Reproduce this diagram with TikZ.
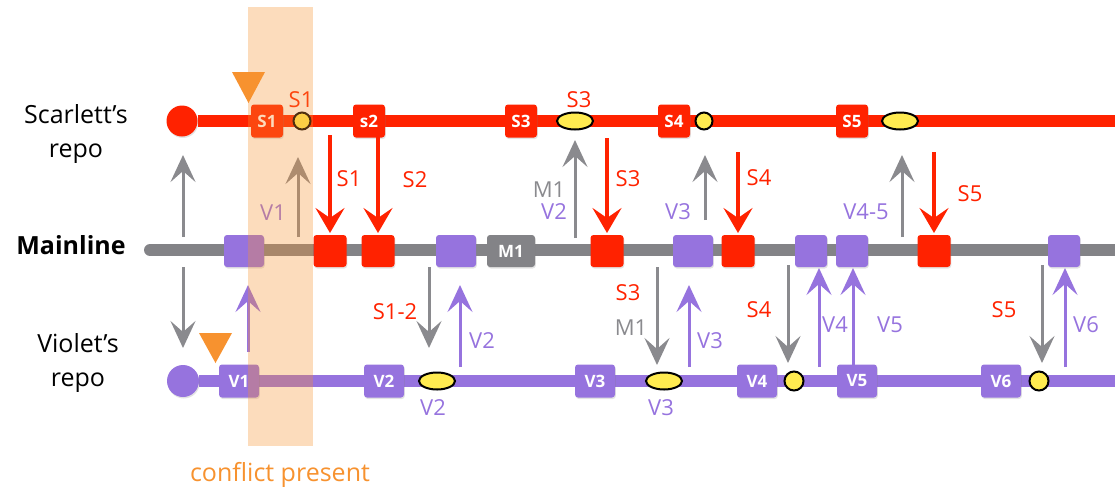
\documentclass[tikz,border=0pt]{standalone}
\usepackage{fontspec}
\setmainfont{Open Sans}
\usetikzlibrary{arrows.meta,shadows,shapes.geometric,backgrounds}

\definecolor{scar}{HTML}{FF2200}
\definecolor{vio}{HTML}{9673DE}
\definecolor{mgray}{HTML}{838387}
\definecolor{agray}{HTML}{8A8A8E}
\definecolor{dot}{HTML}{FFEB50}
\definecolor{warn}{HTML}{F7922F}

\tikzset{
  shade/.style={drop shadow={shadow xshift=0.8pt, shadow yshift=-1.5pt, opacity=0.22}},
  commit/.style={rounded corners=3pt, minimum height=33pt, minimum width=32pt,
    inner sep=0pt, text=white, font=\fontsize{17}{17}\selectfont\bfseries, shade},
  scommit/.style={commit, fill=scar},
  vcommit/.style={commit, fill=vio, minimum width=40pt},
  mred/.style={commit, fill=scar, minimum height=32pt, minimum width=33pt},
  mvio/.style={commit, fill=vio, minimum height=32pt},
  mgrey/.style={commit, fill=mgray, minimum height=32pt, minimum width=48pt},
  root/.style={circle, minimum size=31pt, inner sep=0pt, shade},
  token/.style={circle, draw=black, line width=2pt, fill=dot, minimum size=17pt, inner sep=0pt},
  bigtoken/.style={ellipse, draw=black, line width=2pt, fill=dot, minimum width=36pt, minimum height=17pt, inner sep=0pt},
  track/.style={line width=12pt},
  lbl/.style={font=\fontsize{22}{22}\selectfont, inner sep=0pt},
  side/.style={font=\fontsize{25}{34}\selectfont, inner sep=0pt, align=center},
  tipped/.style={-{Stealth[length=27pt, width=25pt, inset=11pt]}},
  gpush/.style={tipped, draw=agray, line width=3pt},
  rpush/.style={-{Stealth[length=25pt, width=29pt, inset=10pt]}, draw=scar, line width=3.5pt},
  vpush/.style={tipped, draw=vio, line width=3pt},
}

\begin{document}
\begin{tikzpicture}[x=1pt, y=-1pt]
\useasboundingbox (0,0) rectangle (1115,491);

% side captions
\node[side, anchor=north] (capS) at (76,104) {Scarlett’s\\repo};
\node[side, anchor=base, font=\fontsize{25}{25}\selectfont\bfseries] (capM) at (71,254) {Mainline};
\node[side, anchor=north] (capV) at (78,333) {Violet’s\\repo};

% Scarlett's repository
\node[root, fill=scar] (sr) at (182,121) {};
\node[scommit] (s1) at (267,121) {S1};
\node[token] (st1) at (302,121) {};
\node[scommit] (s2) at (369,121) {s2};
\node[scommit] (s3) at (521,121) {S3};
\node[bigtoken] (st3) at (575,121) {};
\node[scommit] (s4) at (674,121) {S4};
\node[token] (st4) at (704,121) {};
\node[scommit] (s5) at (852,121) {S5};
\node[bigtoken] (st5) at (900,121) {};
\coordinate (send) at (1115,121);

% mainline
\coordinate (mstart) at (150,250);
\node[mvio, minimum width=40pt] (m1) at (244,251) {};
\node[mred] (m2) at (330,251) {};
\node[mred] (m3) at (378,251) {};
\node[mvio, minimum width=40pt] (m4) at (456,251) {};
\node[mgrey] (mm1) at (511,251) {M1};
\node[mred] (m5) at (607,251) {};
\node[mvio, minimum width=40pt] (m6) at (693,251) {};
\node[mred] (m7) at (738,251) {};
\node[mvio, minimum width=32pt] (m8) at (811,251) {};
\node[mvio, minimum width=32pt] (m9) at (852,251) {};
\node[mred] (m10) at (934,251) {};
\node[mvio, minimum width=32pt] (m11) at (1064,251) {};
\coordinate (mend) at (1115,250);

% Violet's repository
\node[root, fill=vio, minimum size=32pt] (vr) at (183,381) {};
\node[vcommit] (v1) at (239,381) {V1};
\node[vcommit] (v2) at (384,381) {V2};
\node[bigtoken] (vt2) at (437,381) {};
\node[vcommit] (v3) at (595,381) {V3};
\node[bigtoken] (vt3) at (664,381) {};
\node[vcommit] (v4) at (757,381) {V4};
\node[token, minimum size=19pt] (vt4) at (794,381) {};
\node[vcommit] (v5) at (857,381) {V5};
\node[vcommit] (v6) at (1001,381) {V6};
\node[token, minimum size=19pt] (vt6) at (1039,381) {};
\coordinate (vend) at (1115,381);

% the three branch lines, behind the commits
\begin{scope}[on background layer]
  \draw[track, scar] (sr) -- (send);
  \draw[track, mgray, line cap=round] (mstart) -- (mend);
  \draw[track, vio] (vr) -- (vend);
\end{scope}

% token labels
\node[lbl, text=scar] (ls1) at (301,100) {S1};
\node[lbl, text=scar] (ls3) at (579,100) {S3};
\node[lbl, text=vio] (lv2b) at (433,408) {V2};
\node[lbl, text=vio] (lv3b) at (661,408) {V3};

% transfers between Scarlett's repo and the mainline
\foreach \x/\a/\b/\s [count=\i] in {
    183/237/155/gpush, 298/237/157/gpush, 330/135/233/rpush, 378/135/233/rpush,
    575/238/140/gpush, 607/138/233/rpush, 705/220/155/gpush, 738/152/233/rpush,
    902/237/155/gpush, 934/152/233/rpush} {
  \coordinate (ua\i) at (\x,\a);
  \coordinate (ub\i) at (\x,\b);
  \draw[\s] (ua\i) -- (ub\i);
}

% transfers between the mainline and Violet's repo
\foreach \x/\a/\b/\s [count=\i] in {
    183/267/348/gpush, 248/352/285/vpush, 429/267/348/gpush, 460/367/285/vpush,
    657/267/365/gpush, 689/367/285/vpush, 788/265/363/gpush, 819/367/268/vpush,
    853/365/268/vpush, 1042/265/363/gpush, 1065/367/268/vpush} {
  \coordinate (la\i) at (\x,\a);
  \coordinate (lb\i) at (\x,\b);
  \draw[\s] (la\i) -- (lb\i);
}

% transfer labels, upper half
\node[lbl, text=vio] (t1) at (273,213) {V1};
\node[lbl, text=scar] (t2) at (349,179) {S1};
\node[lbl, text=scar] (t3) at (415,180) {S2};
\node[lbl, text=agray] (t4) at (549,190) {M1};
\node[lbl, text=vio] (t5) at (554,212) {V2};
\node[lbl, text=scar] (t6) at (628,179) {S3};
\node[lbl, text=vio] (t7) at (678,212) {V3};
\node[lbl, text=scar] (t8) at (759,178) {S4};
\node[lbl, text=vio] (t9) at (866,212) {V4-5};
\node[lbl, text=scar] (t10) at (970,194) {S5};

% transfer labels, lower half
\node[lbl, text=scar] (b1) at (395,312) {S1-2};
\node[lbl, text=vio] (b2) at (482,341) {V2};
\node[lbl, text=scar] (b3) at (628,293) {S3};
\node[lbl, text=agray] (b4) at (631,328) {M1};
\node[lbl, text=vio] (b5) at (710,341) {V3};
\node[lbl, text=scar] (b6) at (759,310) {S4};
\node[lbl, text=vio] (b7) at (835,325) {V4};
\node[lbl, text=vio] (b8) at (890,325) {V5};
\node[lbl, text=scar] (b9) at (1004,310) {S5};
\node[lbl, text=vio] (b10) at (1086,325) {V6};

% markers where each developer started work
\fill[warn] (232,72) -- (265,72) -- (248.5,103) -- cycle;
\fill[warn] (199,333) -- (232,333) -- (215.5,363) -- cycle;

% window in which the conflict exists
\fill[warn, opacity=0.32] (248,7) rectangle (313,446);
\node[lbl, text=warn, font=\fontsize{25}{25}\selectfont] (conf) at (280,475) {conflict present};
\end{tikzpicture}
\end{document}
